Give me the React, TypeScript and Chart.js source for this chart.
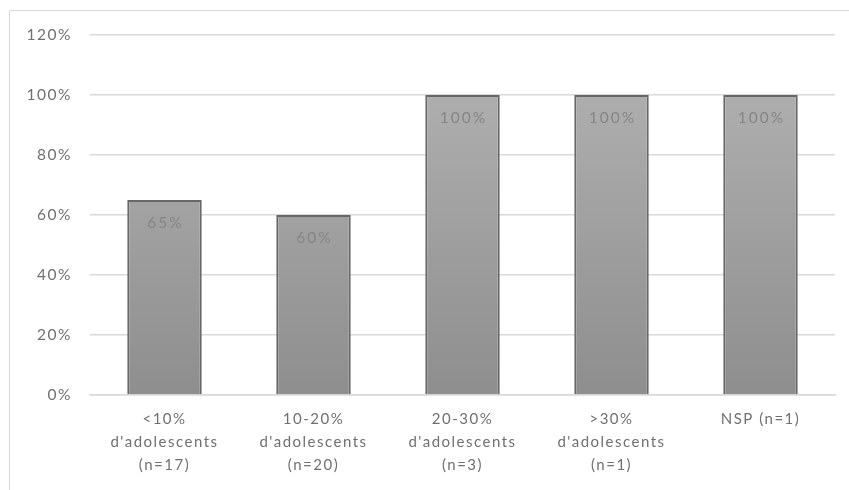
import React, { useEffect, useRef } from "react";
import { Chart, registerables } from "chart.js";

Chart.register(...registerables);

const categories: string[][] = [
  ["<10%", "d'adolescents", "(n=17)"],
  ["10-20%", "d'adolescents", "(n=20)"],
  ["20-30%", "d'adolescents", "(n=3)"],
  [">30%", "d'adolescents", "(n=1)"],
  ["NSP (n=1)"],
];
const values: number[] = [65, 60, 100, 100, 100];
const yTicks: number[] = [0, 20, 40, 60, 80, 100, 120];

const FONT = "Lato, 'Open Sans', sans-serif";

const spacingPlugin = {
  id: "spacing",
  beforeDraw(chart: any) {
    (chart.ctx as any).letterSpacing = "1.5px";
  },
};

const labelPlugin = {
  id: "barLabels",
  afterDatasetsDraw(chart: any) {
    const ctx = chart.ctx;
    const meta = chart.getDatasetMeta(0);
    ctx.save();
    (ctx as any).letterSpacing = "2px";
    ctx.fillStyle = "#858585";
    ctx.font = `15.5px ${FONT}`;
    ctx.textAlign = "center";
    ctx.textBaseline = "middle";
    meta.data.forEach((bar: any, i: number) => {
      ctx.fillText(values[i] + "%", bar.x + 1, bar.y + 23);
    });
    ctx.restore();
  },
};

export default function App() {
  const ref = useRef<HTMLCanvasElement>(null);
  useEffect(() => {
    const canvas = ref.current!;
    const chart = new Chart(canvas, {
      type: "bar",
      data: {
        labels: categories,
        datasets: [
          {
            data: values,
            backgroundColor: (c: any) => {
              const area = c.chart.chartArea;
              if (!area) return "#a0a0a0";
              const g = c.chart.ctx.createLinearGradient(0, area.top, 0, area.bottom);
              g.addColorStop(0, "#b4b4b4");
              g.addColorStop(1, "#8e8e8e");
              return g;
            },
            borderColor: "#686868",
            borderWidth: 2,
            borderSkipped: "bottom",
            barPercentage: 0.5,
            categoryPercentage: 1,
          },
        ],
      },
      options: {
        animation: false,
        responsive: false,
        maintainAspectRatio: false,
        layout: { padding: { left: 0, right: 14, top: 35, bottom: 0 } },
        plugins: { legend: { display: false }, tooltip: { enabled: false } },
        scales: {
          x: {
            grid: { display: false, drawTicks: false },
            border: { display: true, color: "#d9d9d9", width: 1.5 },
            ticks: {
              color: "#707070",
              font: { family: FONT, size: 15, lineHeight: 1.53 },
              padding: 13,
              maxRotation: 0,
              autoSkip: false,
            },
            afterFit: (s: any) => {
              s.height = 95;
            },
          },
          y: {
            min: 0,
            max: 120,
            afterBuildTicks: (s: any) => {
              s.ticks = yTicks.map((v) => ({ value: v }));
            },
            grid: { color: "#d9d9d9", lineWidth: 1.5, drawTicks: false },
            border: { display: false },
            ticks: {
              color: "#707070",
              font: { family: FONT, size: 15.5 },
              padding: 18,
              callback: (v: any) => v + "%",
            },
            afterFit: (s: any) => {
              s.width = 90;
            },
          },
        },
      },
      plugins: [spacingPlugin, labelPlugin],
    });
    return () => chart.destroy();
  }, []);
  return (
    <div style={{ position: "absolute", left: 0, top: 0, width: 849, height: 490, background: "#fff" }}>
      <canvas ref={ref} width={849} height={490} style={{ position: "absolute", left: 0, top: 0, width: 849, height: 490 }} />
      <div
        style={{
          position: "absolute",
          left: 9,
          top: 10,
          width: 840,
          height: 480,
          borderTop: "1.5px solid #d9d9d9",
          borderLeft: "1.5px solid #d9d9d9",
          pointerEvents: "none",
        }}
      />
    </div>
  );
}
